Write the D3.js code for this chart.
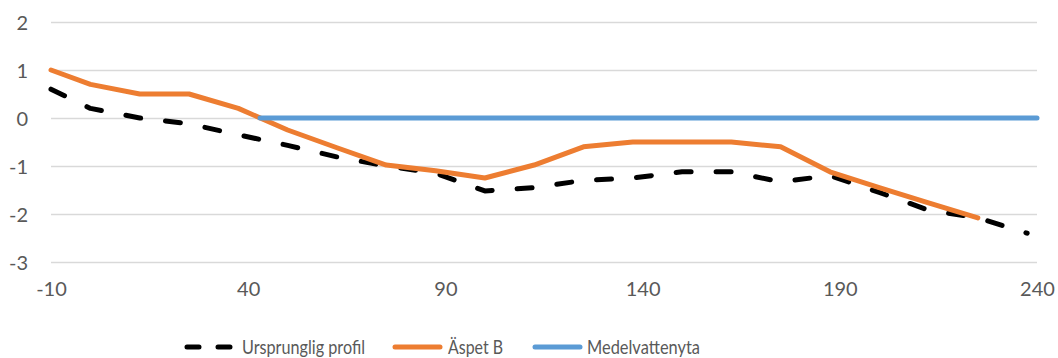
<!DOCTYPE html>
<html>
<head>
<meta charset="utf-8">
<script src="https://cdn.jsdelivr.net/npm/d3@7"></script>
<style>
  html, body { margin: 0; padding: 0; background: #fff; }
  svg { display: block; font-family: Lato, "Open Sans", sans-serif; }
</style>
</head>
<body>
<svg id="chart" width="1058" height="358"></svg>
<script>
// Distance along the profile (m) and elevation (m)
const profileX = [-10, 0, 12.5, 25, 37.5, 50, 62.5, 75, 87.5, 100, 112.5, 125, 137.5, 150, 162.5, 175, 187.5, 200, 212.5, 225, 237.5];
const profileY = [0.6, 0.2, 0.0, -0.12, -0.35, -0.57, -0.81, -1.0, -1.15, -1.52, -1.45, -1.3, -1.25, -1.12, -1.12, -1.33, -1.2, -1.55, -1.92, -2.08, -2.4];

const aspetX = [-10, 0, 12.5, 25, 37.5, 50, 62.5, 75, 87.5, 100, 112.5, 125, 137.5, 150, 162.5, 175, 187.5, 200, 212.5, 225];
const aspetY = [1.0, 0.7, 0.5, 0.5, 0.2, -0.25, -0.62, -0.98, -1.1, -1.25, -0.98, -0.6, -0.5, -0.5, -0.5, -0.6, -1.12, -1.45, -1.77, -2.08];

const waterX = [43, 240];
const waterY = [0, 0];

const xTicks = [-10, 40, 90, 140, 190, 240];
const yTicks = [-3, -2, -1, 0, 1, 2];

const seriesNames = ["Ursprunglig profil", "Äspet B", "Medelvattenyta"];
const seriesColors = ["#000000", "#ED7D31", "#5B9BD5"];

const svg = d3.select("#chart");
const x = d3.scaleLinear().domain([-10, 240]).range([51, 1037]);
const y = d3.scaleLinear().domain([-3, 2]).range([262, 22]);
const fmt = d => String(d); // plain hyphen-minus

// Horizontal gridlines with y labels
const yAxis = d3.axisLeft(y).tickValues(yTicks).tickSize(-(1037 - 51)).tickPadding(23).tickFormat(fmt);
const gy = svg.append("g").attr("transform", "translate(51,0)").call(yAxis);
gy.select(".domain").remove();
gy.selectAll(".tick line").attr("stroke", "#D9D9D9").attr("stroke-width", 1.3);
gy.selectAll(".tick text").attr("fill", "#595959").style("font-size", "20px")
  .style("font-family", "Lato, 'Open Sans', sans-serif").attr("dy", "0.35em");

// x labels
const xAxis = d3.axisBottom(x).tickValues(xTicks).tickSize(0).tickPadding(34).tickFormat(fmt);
const gx = svg.append("g").attr("transform", "translate(0,262)").call(xAxis);
gx.select(".domain").remove();
gx.selectAll(".tick text").attr("fill", "#595959").style("font-size", "20px")
  .style("font-family", "Lato, 'Open Sans', sans-serif").attr("dy", "0");

const line = d3.line().x(d => x(d[0])).y(d => y(d[1]));
const zip = (a, b) => a.map((v, i) => [v, b[i]]);

svg.append("path").datum(zip(profileX, profileY)).attr("d", line)
  .attr("fill", "none").attr("stroke", seriesColors[0]).attr("stroke-width", 5)
  .attr("stroke-dasharray", "15 25").attr("stroke-linecap", "round").attr("stroke-linejoin", "round");

svg.append("path").datum(zip(aspetX, aspetY)).attr("d", line)
  .attr("fill", "none").attr("stroke", seriesColors[1]).attr("stroke-width", 5)
  .attr("stroke-linejoin", "round").attr("stroke-linecap", "round");

svg.append("path").datum(zip(waterX, waterY)).attr("d", line)
  .attr("fill", "none").attr("stroke", seriesColors[2]).attr("stroke-width", 5).attr("stroke-linecap", "round");

// Legend
const legend = svg.append("g");
const legendItems = [
  { sx: 187, tx: 242, w: 123, dashed: true },
  { sx: 395, tx: 448, w: 55, dashed: false },
  { sx: 535, tx: 587, w: 113, dashed: false }
];
legendItems.forEach((it, i) => {
  legend.append("line")
    .attr("x1", it.sx).attr("x2", it.sx + 45).attr("y1", 347).attr("y2", 347)
    .attr("stroke", seriesColors[i]).attr("stroke-width", 5).attr("stroke-linecap", "round")
    .attr("stroke-dasharray", it.dashed ? "12 19" : null);
  legend.append("text")
    .attr("x", it.tx).attr("y", 347).attr("dy", "0.36em")
    .attr("fill", "#595959").style("font-size", "20px")
    .attr("textLength", it.w).attr("lengthAdjust", "spacingAndGlyphs")
    .text(seriesNames[i]);
});
</script>
</body>
</html>
